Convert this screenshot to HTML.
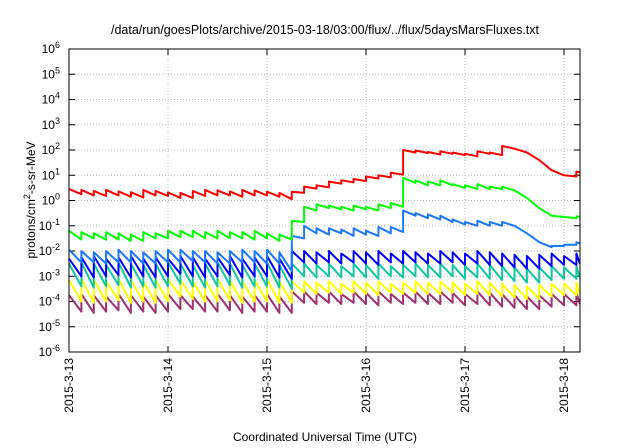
<!DOCTYPE html>
<html><head><meta charset="utf-8"><style>
html,body{margin:0;padding:0;background:#fff;}
svg{display:block;font-family:"Liberation Sans",sans-serif;}
</style></head><body>
<svg id="chart" width="640" height="448" viewBox="0 0 640 448">
<text x="325" y="34" font-size="12.5" text-anchor="middle">/data/run/goesPlots/archive/2015-03-18/03:00/flux/../flux/5daysMarsFluxes.txt</text>
<g id="grid"></g>
<g id="yticks"></g>
<g id="xticks"></g>
<g id="series"></g>
<rect x="69" y="49" width="511" height="303" fill="none" stroke="#000" stroke-width="1"/>
<text transform="translate(35,200) rotate(-90)" font-size="12" text-anchor="middle">protons/cm<tspan dy="-5" font-size="9">2</tspan><tspan dy="5">-s-sr-MeV</tspan></text>
<text x="325" y="441" font-size="12" text-anchor="middle">Coordinated Universal Time (UTC)</text>
</svg>
<script>
const xTickLabels=["2015-3-13","2015-3-14","2015-3-15","2015-3-16","2015-3-17","2015-3-18"];
const xTickDays=[0,1,2,3,4,5];
const yTickExps=[-6,-5,-4,-3,-2,-1,0,1,2,3,4,5,6];
const toothStep=0.125;
const xMaxDay=5.16;
const redPeak=[0.45,0.42,0.38,0.42,0.36,0.33,0.42,0.38,0.32,0.3,0.38,0.42,0.4,0.36,0.42,0.4,0.35,0.3,0.35,0.55,0.6,0.75,0.8,0.85,0.95,1.0,1.1,2.0,1.98,1.92,1.95,1.9,1.85,1.95,1.9,2.16,2.05,1.9,1.6,1.2,1.0,1.15];
const redTrough=[0.25,0.2,0.18,0.2,0.15,0.12,0.2,0.18,0.1,0.1,0.18,0.2,0.2,0.15,0.2,0.2,0.15,0.05,0.3,0.47,0.52,0.67,0.72,0.77,0.87,0.92,1.02,1.9,1.88,1.82,1.85,1.8,1.75,1.85,1.8,2.05,1.9,1.6,1.2,1.0,0.95,1.12];
const greenPeak=[-1.2,-1.25,-1.3,-1.25,-1.3,-1.35,-1.25,-1.3,-1.2,-1.2,-1.2,-1.25,-1.2,-1.25,-1.25,-1.2,-1.3,-1.35,-0.8,-0.25,-0.15,-0.2,-0.25,-0.2,-0.25,-0.15,-0.1,0.9,0.8,0.75,0.8,0.65,0.6,0.65,0.55,0.55,0.4,0.1,-0.3,-0.6,-0.65,-0.62];
const greenTrough=[-1.55,-1.5,-1.55,-1.55,-1.6,-1.6,-1.5,-1.5,-1.45,-1.45,-1.5,-1.5,-1.5,-1.5,-1.55,-1.5,-1.6,-1.55,-0.85,-0.4,-0.3,-0.35,-0.4,-0.35,-0.4,-0.3,-0.25,0.7,0.6,0.6,0.6,0.5,0.45,0.45,0.45,0.4,0.1,-0.3,-0.6,-0.65,-0.7,-0.65];
const lblueP=[-1.95,-2.0,-2.05,-2.0,-1.95,-2.0,-2.05,-2.0,-1.95,-1.95,-2.0,-2.0,-2.05,-2.0,-1.95,-2.0,-1.95,-2.05,-1.4,-1.0,-1.1,-1.1,-1.15,-1.1,-1.2,-1.05,-1.05,-0.4,-0.5,-0.55,-0.6,-0.75,-0.85,-0.8,-0.85,-0.85,-1.0,-1.3,-1.65,-1.8,-1.75,-1.65];
const lblueT=[-2.45,-2.45,-2.5,-2.45,-2.45,-2.5,-2.5,-2.45,-2.45,-2.4,-2.45,-2.5,-2.5,-2.45,-2.45,-2.5,-2.5,-2.8,-1.5,-1.3,-1.35,-1.3,-1.4,-1.35,-1.4,-1.3,-1.25,-0.6,-0.7,-0.75,-0.85,-0.95,-1.0,-1.0,-1.0,-1.0,-1.3,-1.65,-1.85,-1.8,-1.75,-1.7];
const dblueP=[-2.3,-2.25,-2.2,-2.3,-2.25,-2.2,-2.3,-2.25,-2.3,-2.2,-2.25,-2.3,-2.25,-2.2,-2.3,-2.25,-2.2,-2.3,-2.0,-2.0,-2.05,-2.0,-2.1,-2.0,-2.05,-2.0,-2.1,-2.0,-2.05,-2.1,-2.0,-2.05,-2.1,-2.0,-2.05,-2.1,-2.15,-2.2,-2.15,-2.1,-2.2,-2.1];
const dblueT=[-3.0,-3.05,-3.0,-2.95,-3.05,-3.0,-3.05,-3.0,-2.9,-3.0,-3.05,-3.0,-2.95,-3.05,-3.0,-3.0,-3.05,-3.1,-2.45,-2.5,-2.45,-2.5,-2.45,-2.5,-2.55,-2.45,-2.5,-2.45,-2.5,-2.5,-2.45,-2.55,-2.5,-2.55,-2.6,-2.65,-2.7,-2.7,-2.6,-2.55,-2.55,-2.5];
const tealP=[-2.5,-2.45,-2.5,-2.55,-2.45,-2.5,-2.55,-2.5,-2.45,-2.5,-2.55,-2.5,-2.45,-2.5,-2.55,-2.5,-2.45,-2.55,-2.5,-2.5,-2.55,-2.5,-2.6,-2.5,-2.55,-2.5,-2.6,-2.55,-2.5,-2.55,-2.5,-2.55,-2.6,-2.5,-2.55,-2.6,-2.65,-2.7,-2.65,-2.6,-2.65,-2.6];
const tealT=[-3.4,-3.45,-3.4,-3.35,-3.45,-3.4,-3.45,-3.4,-3.3,-3.4,-3.45,-3.4,-3.35,-3.45,-3.4,-3.4,-3.45,-3.5,-3.0,-3.05,-3.0,-3.05,-3.0,-3.05,-3.1,-3.0,-3.05,-3.0,-3.05,-3.05,-3.0,-3.1,-3.05,-3.1,-3.15,-3.2,-3.25,-3.25,-3.15,-3.1,-3.1,-3.05];
const yellowP=[-3.15,-3.1,-3.15,-3.2,-3.1,-3.15,-3.2,-3.15,-3.1,-3.15,-3.2,-3.15,-3.1,-3.15,-3.2,-3.15,-3.1,-3.2,-3.2,-3.2,-3.25,-3.2,-3.3,-3.2,-3.25,-3.2,-3.3,-3.25,-3.2,-3.25,-3.2,-3.25,-3.3,-3.2,-3.25,-3.3,-3.35,-3.4,-3.35,-3.3,-3.3,-3.25];
const yellowT=[-4.0,-4.05,-4.0,-3.95,-4.05,-4.0,-4.05,-4.0,-3.8,-3.9,-4.0,-4.0,-3.95,-4.05,-4.0,-4.0,-4.05,-4.05,-3.65,-3.7,-3.65,-3.7,-3.65,-3.7,-3.75,-3.65,-3.7,-3.65,-3.7,-3.7,-3.65,-3.75,-3.7,-3.75,-3.8,-3.85,-3.9,-3.9,-3.8,-3.75,-3.75,-3.7];
const purpleP=[-3.75,-3.7,-3.75,-3.8,-3.7,-3.75,-3.8,-3.75,-3.7,-3.75,-3.8,-3.75,-3.7,-3.75,-3.8,-3.75,-3.7,-3.8,-3.6,-3.6,-3.65,-3.6,-3.7,-3.6,-3.65,-3.6,-3.7,-3.65,-3.6,-3.65,-3.6,-3.65,-3.7,-3.6,-3.65,-3.7,-3.75,-3.8,-3.75,-3.7,-3.7,-3.65];
const purpleT=[-4.4,-4.45,-4.4,-4.35,-4.45,-4.4,-4.45,-4.4,-4.3,-4.3,-4.4,-4.4,-4.35,-4.45,-4.4,-4.4,-4.45,-4.45,-4.05,-4.1,-4.05,-4.1,-4.05,-4.1,-4.15,-4.05,-4.1,-4.05,-4.1,-4.1,-4.05,-4.15,-4.1,-4.15,-4.2,-4.25,-4.3,-4.3,-4.2,-4.15,-4.15,-4.1];

const L=69,R=580,T=49,B=352,NS="http://www.w3.org/2000/svg";
const xs=d=>L+d*99;
const ys=e=>T+(6-e)*(B-T)/12;
function mk(tag,attrs,parent){const el=document.createElementNS(NS,tag);for(const k in attrs)el.setAttribute(k,attrs[k]);parent.appendChild(el);return el;}
const grid=document.getElementById('grid'),yt=document.getElementById('yticks'),xt=document.getElementById('xticks'),sg=document.getElementById('series');
yTickExps.forEach(e=>{
  const y=ys(e);
  if(e>-6&&e<6){const g=mk('line',{x1:L,x2:R,y1:y,y2:y,stroke:'#bbb','stroke-dasharray':'1,2'},grid);
  
  }
  const t1=mk('line',{x1:L,x2:L+6,y1:y,y2:y,stroke:'#000'},yt);
  
  
  const t2=mk('line',{x1:R-6,x2:R,y1:y,y2:y,stroke:'#000'},yt);
  
  
  const tx=mk('text',{x:60,y:y+4,'font-size':'12','text-anchor':'end'},yt);
  
  
  tx.textContent='10';
  const sp=mk('tspan',{dy:'-5','font-size':'9'},tx);sp.textContent=String(e);
});
xTickDays.forEach((d,i)=>{
  const x=xs(d);
  if(d>0){const g=mk('line',{x1:x,x2:x,y1:T,y2:B,stroke:'#bbb','stroke-dasharray':'1,2'},grid);
  
  }
  const t1=mk('line',{x1:x,x2:x,y1:B-6,y2:B,stroke:'#000'},xt);
  
  
  const t2=mk('line',{x1:x,x2:x,y1:T,y2:T+6,stroke:'#000'},xt);
  
  
  const tx=mk('text',{transform:`translate(${x+4},358) rotate(-90)`,'font-size':'12','text-anchor':'end'},xt);
  
  
  tx.textContent=xTickLabels[i];
});
const seriesList=[["purple-series","#a03070",purpleP,purpleT],["yellow-series","#ffff00",yellowP,yellowT],["teal-series","#10c8a0",tealP,tealT],["dark-blue-series","#0000ff",dblueP,dblueT],["light-blue-series","#1a78ff",lblueP,lblueT],["green-series","#00ff00",greenPeak,greenTrough],["red-series","#ff0000",redPeak,redTrough]];
seriesList.forEach(s=>{
  const pk=s[2],tr=s[3];let d='';
  for(let i=0;i<pk.length;i++){
    const t0=i*toothStep,t1=Math.min((i+1)*toothStep,xMaxDay);
    d+=(i?'L':'M')+xs(t0).toFixed(1)+','+ys(pk[i]).toFixed(1)+'L'+xs(t1).toFixed(1)+','+ys(tr[i]).toFixed(1);
  }
  const p=mk('path',{d:d,fill:'none',stroke:s[1],'stroke-width':'2','stroke-linejoin':'round'},sg);
  
  
});
</script>
</body></html>
